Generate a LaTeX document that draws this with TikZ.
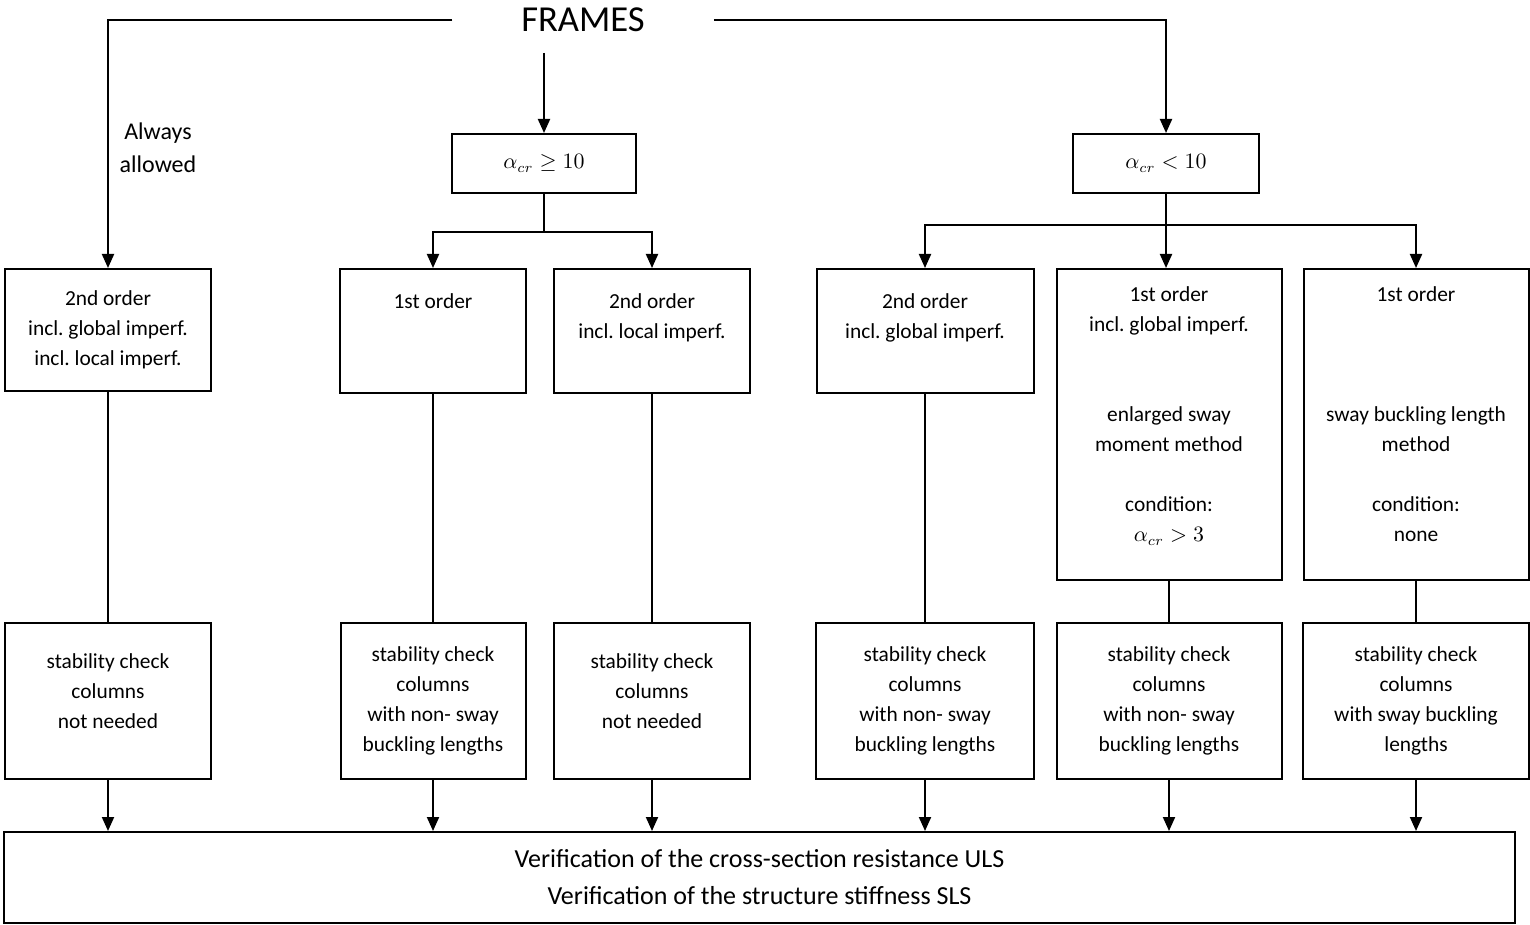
\documentclass[tikz,border=0pt]{standalone}
\usepackage{fontspec}
\setmainfont{Carlito}
\frenchspacing
\usetikzlibrary{arrows.meta}

\begin{document}
\begin{tikzpicture}[
        x=0.5pt, y=-0.5pt,
        line width=1pt,
        box/.style={draw, rectangle, anchor=north, align=center, inner sep=2pt,
            font=\fontsize{10.7}{15}\selectfont},
        arr/.style={-{Triangle[length=7pt, width=6pt]}}
    ]

    \useasboundingbox (0,0) rectangle (1530,925);

    % top of the tree
    \node[inner xsep=34pt, inner ysep=10pt, font=\fontsize{18.3}{22}\selectfont] (frames) at (583,20) {FRAMES};
    \node[box, minimum width=92pt, minimum height=29.5pt] (geq) at (544,133) {$\alpha_{cr} \geq 10$};
    \node[box, minimum width=93pt, minimum height=29.5pt] (lt) at (1166,133) {$\alpha_{cr} < 10$};
    \node[align=center, font=\fontsize{12}{16.5}\selectfont] (always) at (158,148) {Always\\allowed};

    % analysis methods
    \node[box, minimum width=103pt, minimum height=61pt] (a1) at (108,268) {2nd order\\incl. global imperf.\\incl. local imperf.};
    \node[box, minimum width=93pt, minimum height=62pt] (b1) at (433,268) {1st order\\~\\~};
    \node[box, minimum width=98pt, minimum height=62pt] (c1) at (652,268) {2nd order\\incl. local imperf.\\~};
    \node[box, minimum width=108.5pt, minimum height=62pt] (d1) at (925,268) {2nd order\\incl. global imperf.\\~};
    \node[box, minimum width=112.5pt, minimum height=155.5pt, text depth=10pt] (e1) at (1169,268) {1st order\\incl. global imperf.\\~\\~\\enlarged sway\\moment method\\~\\condition:\\$\alpha_{cr} > 3$};
    \node[box, minimum width=112.5pt, minimum height=155.5pt, text depth=10pt] (f1) at (1416,268) {1st order\\~\\~\\~\\sway buckling length\\method\\~\\condition:\\none};

    % stability checks
    \node[box, minimum width=103pt, minimum height=78pt, text depth=10pt] (a2) at (108,622) {stability check\\columns\\not needed};
    \node[box, minimum width=92.5pt, minimum height=78pt] (b2) at (433,622) {stability check\\columns\\with non- sway\\buckling lengths};
    \node[box, minimum width=98pt, minimum height=78pt, text depth=10pt] (c2) at (652,622) {stability check\\columns\\not needed};
    \node[box, minimum width=109pt, minimum height=78pt] (d2) at (925,622) {stability check\\columns\\with non- sway\\buckling lengths};
    \node[box, minimum width=112.5pt, minimum height=78pt] (e2) at (1169,622) {stability check\\columns\\with non- sway\\buckling lengths};
    \node[box, minimum width=113pt, minimum height=78pt] (f2) at (1416,622) {stability check\\columns\\with sway buckling\\lengths};

    \node[box, minimum width=755.5pt, minimum height=45.5pt, font=\fontsize{13}{18.5}\selectfont] (ver) at (759.5,831)
        {Verification of the cross-section resistance ULS\\Verification of the structure stiffness SLS};

    % connectors
    \draw[arr] (frames.west) -| (a1.north);
    \draw[arr] (frames.east) -| (lt.north);
    \draw[arr] (frames.south -| geq.north) -- (geq.north);

    \draw (geq.south) -- (geq.south |- 0,232) coordinate (gsplit);
    \draw[arr] (gsplit) -| (b1.north);
    \draw[arr] (gsplit) -| (c1.north);

    \draw (lt.south) -- (lt.south |- 0,225) coordinate (lsplit);
    \draw[arr] (lsplit) -| (d1.north);
    \draw[arr] (lsplit) -| (f1.north);
    \draw[arr] (lsplit) -- (lsplit |- e1.north);

    \foreach \col in {a, b, c, d, e, f} {
        \draw (\col1.south) -- (\col1.south |- \col2.north);
        \draw[arr] (\col2.south) -- (\col2.south |- ver.north);
    }

\end{tikzpicture}
\end{document}
